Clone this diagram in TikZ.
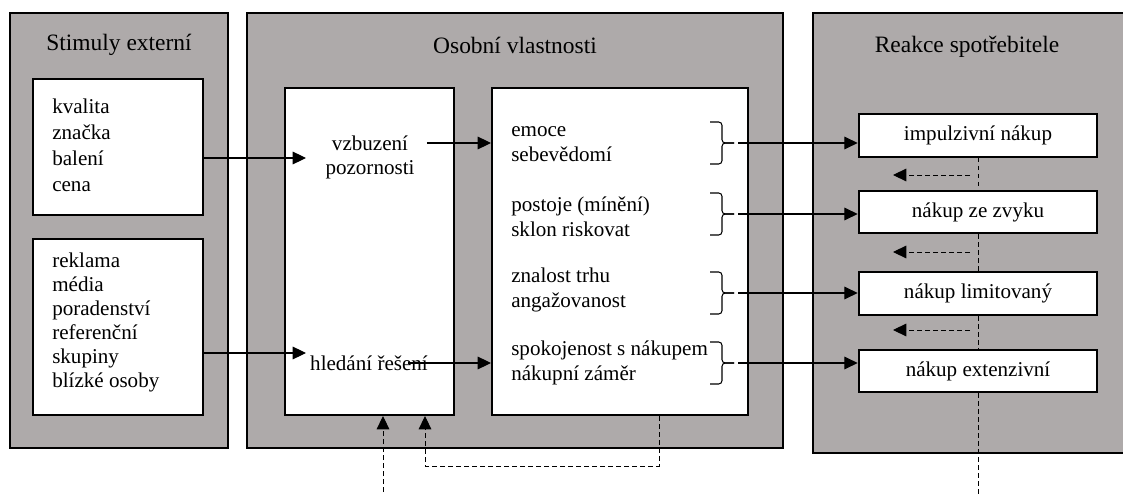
\documentclass[tikz,border=0pt]{standalone}
\usepackage{fontspec}
\setmainfont{Liberation Serif}
\usetikzlibrary{arrows.meta,fit,calc}
\definecolor{panelgray}{RGB}{174,170,170}
\tikzset{
  panel/.style = {draw=black, line width=1.5pt, fill=panelgray, inner sep=0pt},
  inbox/.style = {draw=black, line width=1.5pt, fill=white, inner sep=0pt},
  title/.style = {font=\fontsize{17.6}{21}\selectfont},
  txt/.style = {font=\fontsize{15.8}{19.5}\selectfont, inner sep=0pt, align=left},
  ctxt/.style = {font=\fontsize{15.8}{19.5}\selectfont, inner sep=0pt},
  react/.style = {draw=black, line width=1.5pt, fill=white, minimum width=179pt,
    minimum height=32pt, inner sep=0pt, font=\fontsize{15.8}{19.5}\selectfont},
  arr/.style = {-{Triangle[length=10pt,width=9.5pt]}, line width=0.8pt},
  dline/.style = {line width=0.7pt, dash pattern=on 3.5pt off 2.5pt},
  darr/.style = {dline, -{Triangle[length=10pt,width=9.5pt]}},
  brc/.style = {line width=0.8pt, rounded corners=2.5pt}
}

\begin{document}
\begin{tikzpicture}[x=0.75pt,y=-0.75pt]
\useasboundingbox (0,0) rectangle (1123,495);

% panels
\node [panel, fit={(10,13) (228,448)}] (stim) {};
\node [panel, fit={(247,13) (783,448)}] (osob) {};
\node [panel, fit={(813,13) (1135,453)}] (reak) {};
\node [title] (tstim) at (119,45) {Stimuly externí};
\node [title] (tosob) at (515,45) {Osobní vlastnosti};
\node [title] (treak) at (967,47) {Reakce spotřebitele};

% stimuly
\node [inbox, fit={(33,79) (203,215)}] (s1) {};
\node [inbox, fit={(33,239) (203,415)}] (s2) {};
\node [txt, anchor=west] (s1t) at (52,145) {kvalita\\značka\\balení\\cena};
\node [txt, anchor=west, font=\fontsize{15.8}{18}\selectfont] (s2t) at (52,322)
  {reklama\\média\\poradenství\\referenční\\skupiny\\blízké osoby};

% osobni vlastnosti
\node [inbox, fit={(285,88) (454,415)}] (m1) {};
\node [inbox, fit={(492,88) (748,415)}] (m2) {};
\node [ctxt] (vzb) at (370,143) {vzbuzení};
\node [ctxt] (poz) at (370,170) {pozornosti};
\node [ctxt] (hled) at (369,363) {hledání řešení};
\node [txt, anchor=west, font=\fontsize{15.8}{18.4}\selectfont] (p1) at (511,144) {emoce\\sebevědomí};
\node [txt, anchor=west, font=\fontsize{15.8}{18.4}\selectfont] (p2) at (511,217) {postoje (mínění)\\sklon riskovat};
\node [txt, anchor=west, font=\fontsize{15.8}{18.4}\selectfont] (p3) at (511,290) {znalost trhu\\angažovanost};
\node [txt, anchor=west, font=\fontsize{15.8}{18.4}\selectfont] (p4) at (511,363) {spokojenost s nákupem\\nákupní záměr};

% reakce
\node [react] (imp) at (978,135.5) {impulzivní nákup};
\node [react] (zvyk) at (978,212) {nákup ze zvyku};
\node [react] (lim) at (978,293.5) {nákup limitovaný};
\node [react] (ext) at (978,371) {nákup extenzivní};

% braces
\foreach \yc/\n in {143/1, 214/2, 293/3, 363/4} {
  \draw [brc] (710,\yc-21) -- (722,\yc-21) -- (722,\yc) -- (734,\yc);
  \draw [brc] (734,\yc) -- (722,\yc) -- (722,\yc+21) -- (710,\yc+21);
  \coordinate (b\n) at (738,\yc);
}

% solid arrows
\coordinate (a1) at (306,158);
\coordinate (a2) at (306,353);
\draw [arr] (s1.east |- a1) -- (a1);
\draw [arr] (s2.east |- a2) -- (a2);
\draw [arr] ([xshift=14pt]vzb.east) -- (vzb.east -| m2.west);
\draw [arr] ([xshift=-15pt]hled.east) -- (hled.east -| m2.west);
\draw [arr] (b1) -- (b1 -| imp.west);
\draw [arr] (b2) -- (b2 -| zvyk.west);
\draw [arr] (b3) -- (b3 -| lim.west);
\draw [arr] (b4) -- (b4 -| ext.west);

% dashed feedback
\draw [dline] (imp.south) -- (zvyk.north);
\draw [dline] (zvyk.south) -- (lim.north);
\draw [dline] (lim.south) -- (ext.north);
\coordinate (eout) at (978,500);
\draw [dline] (ext.south) -- (eout);
\coordinate (h1s) at (970,175);  \coordinate (h1e) at (893,175);
\coordinate (h2s) at (970,252);  \coordinate (h2e) at (893,252);
\coordinate (h3s) at (970,330);  \coordinate (h3e) at (893,330);
\draw [darr] (h1s) -- (h1e);
\draw [darr] (h2s) -- (h2e);
\draw [darr] (h3s) -- (h3e);

\coordinate (fbx) at (659,0);
\coordinate (fbin) at (425,0);
\draw [darr] (m2.south -| fbx) -- ++(0,50) -| (m1.south -| fbin);
\coordinate (exin) at (383,0);
\coordinate (exout) at (383,500);
\draw [darr] (exout) -- (m1.south -| exin);
\end{tikzpicture}
\end{document}
